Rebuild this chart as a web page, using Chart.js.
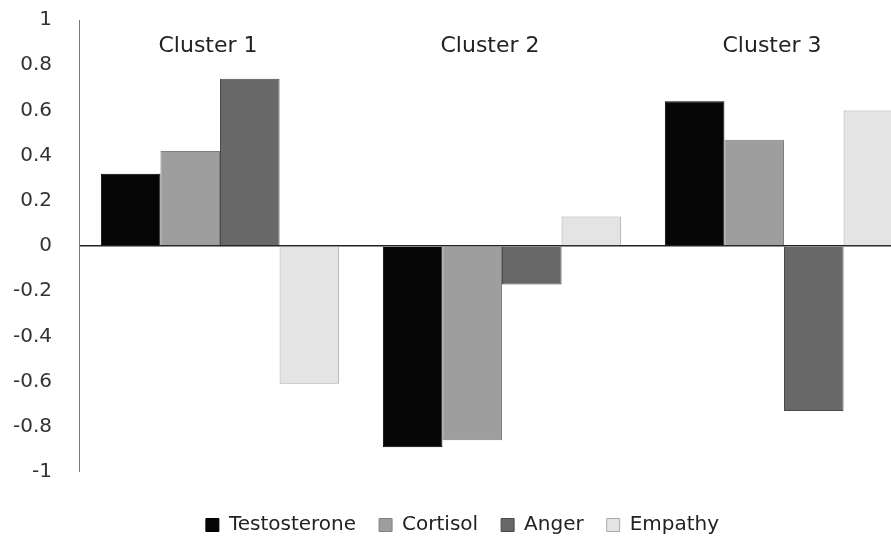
<!DOCTYPE html>
<html>
<head>
<meta charset="utf-8">
<script src="https://cdn.jsdelivr.net/npm/chart.js@4/dist/chart.umd.min.js"></script>
<style>
  html, body { margin: 0; padding: 0; background: #fff; overflow: hidden; }
  #wrap { width: 925px; height: 564px; margin-top: -19px; }
</style>
</head>
<body>
<div id="wrap"><canvas id="chart" width="925" height="564"></canvas></div>
<script>
"use strict";

const clusters = ["Cluster 1", "Cluster 2", "Cluster 3"];
const testosterone = [0.32, -0.89, 0.64];
const cortisol = [0.42, -0.86, 0.47];
const anger = [0.74, -0.17, -0.73];
const empathy = [-0.61, 0.13, 0.60];
const yTicksMin = -1;
const yTicksMax = 1;
const yTicksStep = 0.2;

// cluster names sit inside the plot, near the top
const clusterLabels = {
    id: "clusterLabels",
    afterDatasetsDraw(chart) {
        const ctx = chart.ctx;
        const x = chart.scales.x;
        ctx.save();
        ctx.font = "22px 'DejaVu Sans'";
        ctx.fillStyle = "#222";
        ctx.textAlign = "center";
        ctx.textBaseline = "middle";
        clusters.forEach((name, i) => {
            ctx.fillText(name, x.getPixelForValue(i) - 12, chart.chartArea.top + 26);
        });
        ctx.restore();
    }
};

new Chart(document.getElementById("chart"), {
    type: "bar",
    data: {
        labels: clusters,
        datasets: [
            { label: "Testosterone", data: testosterone, backgroundColor: "#060606", borderColor: "#000", borderWidth: 1 },
            { label: "Cortisol", data: cortisol, backgroundColor: "#9e9e9e", borderColor: "#808080", borderWidth: 1 },
            { label: "Anger", data: anger, backgroundColor: "#686868", borderColor: "#4a4a4a", borderWidth: 1 },
            { label: "Empathy", data: empathy, backgroundColor: "#e4e4e4", borderColor: "#a8a8a8", borderWidth: 1 }
        ]
    },
    options: {
        responsive: false,
        animation: false,
        layout: { padding: 0 },
        datasets: { bar: { categoryPercentage: 0.845, barPercentage: 1 } },
        plugins: {
            tooltip: { enabled: false },
            legend: {
                position: "bottom",
                labels: {
                    boxWidth: 13, boxHeight: 13, padding: 23,
                    color: "#222",
                    font: { family: "'DejaVu Sans'", size: 20 }
                }
            }
        },
        scales: {
            x: {
                display: true,
                grid: { display: false },
                border: { display: false },
                ticks: { display: false },
                afterFit(s) { s.height = 20; }
            },
            y: {
                min: yTicksMin, max: yTicksMax,
                ticks: {
                    stepSize: yTicksStep,
                    padding: 27,
                    color: "#333",
                    font: { family: "'DejaVu Sans'", size: 20 },
                    callback: (v) => String(Math.round(v * 10) / 10)
                },
                grid: {
                    drawTicks: false,
                    color: (c) => (c.tick && Math.abs(c.tick.value) < 1e-9) ? "#222" : "rgba(0,0,0,0)",
                    lineWidth: (c) => (c.tick && Math.abs(c.tick.value) < 1e-9) ? 1.5 : 0
                },
                border: { display: true, color: "#777", width: 1 },
                afterFit(s) { s.width = 79; }
            }
        }
    },
    plugins: [clusterLabels]
});
</script>
</body>
</html>
